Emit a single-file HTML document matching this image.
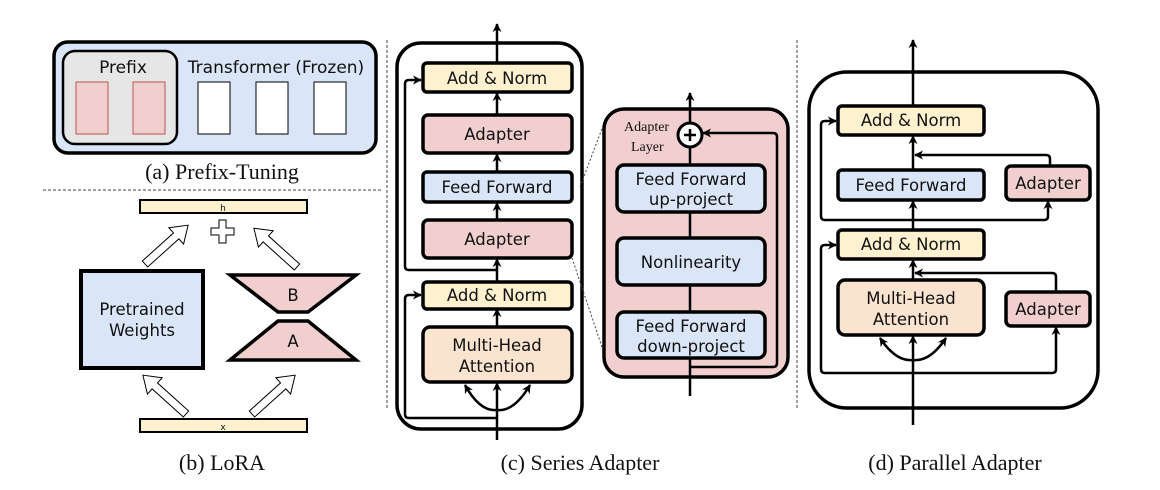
<!DOCTYPE html>
<html><head><meta charset="utf-8"><style>
body{margin:0;background:#fff}
svg{display:block}
text{font-family:"DejaVu Sans","Liberation Sans",sans-serif;fill:#111}
.cap{font-family:"Liberation Serif",serif;font-size:22px}
</style></head><body>
<svg width="1160" height="490" viewBox="0 0 1160 490" xmlns="http://www.w3.org/2000/svg">
<defs>
<marker id="ar" viewBox="0 0 10 10" refX="9" refY="5" markerWidth="9" markerHeight="9" markerUnits="userSpaceOnUse" orient="auto">
<path d="M0,0 L10,5 L0,10 L3,5 z" fill="#000"/>
</marker>
</defs>
<line x1="43" y1="190" x2="382" y2="190" stroke="#444" stroke-dasharray="3,2" stroke-width="1"/>
<line x1="387" y1="40" x2="387" y2="410" stroke="#444" stroke-dasharray="3,2" stroke-width="1"/>
<line x1="797" y1="40" x2="797" y2="410" stroke="#444" stroke-dasharray="3,2" stroke-width="1"/>

<!-- (a) -->
<rect x="54" y="42" width="322" height="111" rx="14" fill="#dae6f7" stroke="#000" stroke-width="3.5"/>
<rect x="63" y="51" width="114" height="93" rx="12" fill="#e6e6e6" stroke="#000" stroke-width="2.5"/>
<rect x="76" y="82" width="32" height="52" fill="#f2cfcf" stroke="#b85450" stroke-width="1"/>
<rect x="133" y="82" width="32" height="52" fill="#f2cfcf" stroke="#b85450" stroke-width="1"/>
<rect x="198" y="82" width="32" height="52" fill="#fff" stroke="#000" stroke-width="1"/>
<rect x="256" y="82" width="32" height="52" fill="#fff" stroke="#000" stroke-width="1"/>
<rect x="314" y="82" width="32" height="52" fill="#fff" stroke="#000" stroke-width="1"/>
<text x="123" y="73" font-size="17" text-anchor="middle">Prefix</text>
<text x="276" y="73" font-size="17" text-anchor="middle">Transformer (Frozen)</text>
<text class="cap" x="222" y="179" text-anchor="middle">(a) Prefix-Tuning</text>

<!-- (b) LoRA -->
<rect x="140" y="200" width="167" height="13" fill="#fdf1cf" stroke="#000" stroke-width="2"/>
<text x="223" y="211" font-size="9" text-anchor="middle">h</text>
<rect x="140" y="419" width="167" height="13" fill="#fdf1cf" stroke="#000" stroke-width="2"/>
<text x="223" y="430" font-size="9" text-anchor="middle">x</text>
<path d="M219,220 h7 v8 h8 v7 h-8 v8 h-7 v-8 h-8 v-7 h8z" fill="#fff" stroke="#000" stroke-width="1"/>
<rect x="81" y="271" width="122" height="97" fill="#dae6f7" stroke="#000" stroke-width="4"/>
<text x="142" y="315" font-size="16.5" text-anchor="middle">Pretrained</text>
<text x="142" y="336" font-size="16.5" text-anchor="middle">Weights</text>
<polygon points="230,275 356,275 308,312 278,312" fill="#f2cfcf" stroke="#000" stroke-width="3.5"/>
<polygon points="278,321 308,321 356,360 230,360" fill="#f2cfcf" stroke="#000" stroke-width="3.5"/>
<text x="293" y="301" font-size="16.5" text-anchor="middle">B</text>
<text x="293" y="347" font-size="16.5" text-anchor="middle">A</text>
<g fill="#fff" stroke="#000" stroke-width="1">
<g transform="translate(145,264) rotate(-42)"><path d="M0,-4 L42,-4 L42,-11 L58,0 L42,11 L42,4 L0,4z"/></g>
<g transform="translate(297,267) rotate(-138)"><path d="M0,-4 L42,-4 L42,-11 L58,0 L42,11 L42,4 L0,4z"/></g>
<g transform="translate(186,414) rotate(-138)"><path d="M0,-4 L42,-4 L42,-11 L58,0 L42,11 L42,4 L0,4z"/></g>
<g transform="translate(252,414) rotate(-42)"><path d="M0,-4 L42,-4 L42,-11 L58,0 L42,11 L42,4 L0,4z"/></g>
</g>
<text class="cap" x="222" y="470" text-anchor="middle">(b) LoRA</text>

<!-- (c) Series -->
<rect x="397" y="43" width="185" height="386" rx="24" fill="#fff" stroke="#000" stroke-width="3.5"/>
<g stroke="#000" stroke-width="2.5" fill="none">
<line x1="497" y1="440" x2="497" y2="383" marker-end="url(#ar)"/>
<line x1="497" y1="327" x2="497" y2="309" marker-end="url(#ar)"/>
<line x1="497" y1="282" x2="497" y2="259" marker-end="url(#ar)"/>
<line x1="497" y1="220" x2="497" y2="203" marker-end="url(#ar)"/>
<line x1="497" y1="172" x2="497" y2="154" marker-end="url(#ar)"/>
<line x1="497" y1="115" x2="497" y2="93" marker-end="url(#ar)"/>
<line x1="497" y1="63" x2="497" y2="24" marker-end="url(#ar)"/>
<path d="M497,270 H409 Q405,270 405,266 V84 Q405,80 409,80 H421" marker-end="url(#ar)"/>
<path d="M497,418 H409 Q405,418 405,414 V299 Q405,295 409,295 H421" marker-end="url(#ar)"/>
<path d="M497,410 Q480,412 465,385" marker-end="url(#ar)"/>
<path d="M497,410 Q514,412 530,385" marker-end="url(#ar)"/>
</g>
<g stroke="#000" stroke-width="3.5">
<rect x="423" y="63" width="149" height="29" rx="4" fill="#fdf1cf"/>
<rect x="423" y="115" width="149" height="38" rx="5" fill="#f2cfcf"/>
<rect x="423" y="172" width="149" height="30" rx="4" fill="#dae6f7"/>
<rect x="423" y="220" width="149" height="38" rx="5" fill="#f2cfcf"/>
<rect x="423" y="282" width="149" height="27" rx="4" fill="#fdf1cf"/>
<rect x="423" y="327" width="149" height="55" rx="7" fill="#fae4cf"/>
</g>
<g font-size="16.5" text-anchor="middle">
<text x="497" y="84">Add &amp; Norm</text>
<text x="497" y="140">Adapter</text>
<text x="497" y="193">Feed Forward</text>
<text x="497" y="245">Adapter</text>
<text x="497" y="301">Add &amp; Norm</text>
<text x="497" y="351">Multi-Head</text>
<text x="497" y="372">Attention</text>
</g>
<line x1="580" y1="187" x2="603" y2="126" stroke="#444" stroke-dasharray="2,2" stroke-width="1"/>
<line x1="572" y1="258" x2="603" y2="350" stroke="#444" stroke-dasharray="2,2" stroke-width="1"/>
<rect x="604" y="109" width="184" height="268" rx="20" fill="#f2cfcf" stroke="#000" stroke-width="3.5"/>
<g stroke="#000" stroke-width="2.5" fill="none">
<line x1="690" y1="396" x2="690" y2="358"/>
<line x1="690" y1="312" x2="690" y2="285"/>
<line x1="690" y1="238" x2="690" y2="212"/>
<line x1="690" y1="165" x2="690" y2="147"/>
<line x1="690" y1="123" x2="690" y2="93" marker-end="url(#ar)"/>
<path d="M690,367 H773 Q777,367 777,363 V137 Q777,133 773,133 H703" marker-end="url(#ar)"/>
</g>
<g stroke="#000" stroke-width="3.5">
<rect x="617" y="165" width="148" height="47" rx="7" fill="#dae6f7"/>
<rect x="617" y="238" width="148" height="47" rx="7" fill="#dae6f7"/>
<rect x="617" y="312" width="148" height="46" rx="7" fill="#dae6f7"/>
</g>
<circle cx="690" cy="135" r="12" fill="#fff" stroke="#000" stroke-width="3"/>
<path d="M690,129 V141 M684,135 H696" stroke="#000" stroke-width="2.5"/>
<text x="624" y="131" style="font-family:'Liberation Serif',serif" font-size="14">Adapter</text>
<text x="631" y="151" style="font-family:'Liberation Serif',serif" font-size="14">Layer</text>
<g font-size="16.5" text-anchor="middle">
<text x="691" y="185">Feed Forward</text>
<text x="691" y="205">up-project</text>
<text x="691" y="268">Nonlinearity</text>
<text x="691" y="332">Feed Forward</text>
<text x="691" y="352">down-project</text>
</g>
<text class="cap" x="580" y="470" text-anchor="middle">(c) Series Adapter</text>

<!-- (d) Parallel -->
<rect x="809" y="72" width="289" height="336" rx="38" fill="#fff" stroke="#000" stroke-width="3.5"/>
<g stroke="#000" stroke-width="2.5" fill="none">
<line x1="913" y1="425" x2="913" y2="336" marker-end="url(#ar)"/>
<line x1="913" y1="280" x2="913" y2="260" marker-end="url(#ar)"/>
<line x1="913" y1="230" x2="913" y2="201" marker-end="url(#ar)"/>
<line x1="913" y1="170" x2="913" y2="136" marker-end="url(#ar)"/>
<line x1="913" y1="106" x2="913" y2="40" marker-end="url(#ar)"/>
<path d="M913,220 H825 Q821,220 821,216 V125 Q821,121 825,121 H836" marker-end="url(#ar)"/>
<path d="M913,373 H825 Q821,373 821,369 V249 Q821,245 825,245 H836" marker-end="url(#ar)"/>
<path d="M913,220 H1044 Q1048,220 1048,216 V201" marker-end="url(#ar)"/>
<path d="M913,373 H1052 Q1056,373 1056,369 V327" marker-end="url(#ar)"/>
<path d="M1050,165 V159 Q1050,155 1046,155 H915" marker-end="url(#ar)"/>
<path d="M1056,292 V277 Q1056,273 1052,273 H915" marker-end="url(#ar)"/>
<path d="M913,360 Q896,362 880,338" marker-end="url(#ar)"/>
<path d="M913,360 Q930,362 946,338" marker-end="url(#ar)"/>
</g>
<g stroke="#000" stroke-width="3.5">
<rect x="838" y="106" width="146" height="29" rx="4" fill="#fdf1cf"/>
<rect x="838" y="170" width="146" height="30" rx="4" fill="#dae6f7"/>
<rect x="1006" y="166" width="84" height="34" rx="5" fill="#f2cfcf"/>
<rect x="838" y="230" width="146" height="29" rx="4" fill="#fdf1cf"/>
<rect x="838" y="280" width="146" height="55" rx="7" fill="#fae4cf"/>
<rect x="1006" y="292" width="84" height="34" rx="5" fill="#f2cfcf"/>
</g>
<g font-size="16.5" text-anchor="middle">
<text x="911" y="126">Add &amp; Norm</text>
<text x="911" y="191">Feed Forward</text>
<text x="1048" y="189">Adapter</text>
<text x="911" y="250">Add &amp; Norm</text>
<text x="911" y="304">Multi-Head</text>
<text x="911" y="325">Attention</text>
<text x="1048" y="315">Adapter</text>
</g>
<text class="cap" x="955" y="470" text-anchor="middle">(d) Parallel Adapter</text>
</svg>
</body></html>
